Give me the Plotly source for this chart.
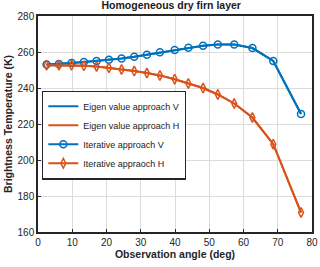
import plotly.graph_objects as go

angles = [2.5, 6.1, 9.8, 13.4, 17.1, 20.7, 24.4, 28.1, 31.8, 35.6, 39.9, 43.9, 48.2, 52.5, 57.3, 62.6, 68.7, 76.8]
tb_v = [253.1, 253.3, 253.9, 254.4, 255.0, 255.7, 256.4, 257.3, 258.5, 259.8, 261.1, 262.4, 263.5, 264.2, 264.2, 262.2, 255.0, 225.6]
tb_h = [252.7, 252.7, 252.6, 252.3, 252.0, 251.2, 250.3, 249.4, 248.3, 247.0, 244.9, 242.5, 240.0, 236.4, 231.4, 223.6, 208.8, 170.8]

names = ["Eigen value approach V", "Eigen value approach H", "Iterative approach V", "Iterative appraoch H"]
blue = "#0072BD"
orange = "#D95319"
FONT = "Liberation Sans, Arial"

fig = go.Figure()
fig.add_trace(go.Scatter(x=angles, y=tb_v, mode="lines", name=names[0], line=dict(color=blue, width=2)))
fig.add_trace(go.Scatter(x=angles, y=tb_h, mode="lines", name=names[1], line=dict(color=orange, width=2)))
fig.add_trace(go.Scatter(x=angles, y=tb_v, mode="lines+markers", name=names[2], line=dict(color=blue, width=2),
                         marker=dict(symbol="circle-open", size=7, color=blue, line=dict(width=1.5))))
fig.add_trace(go.Scatter(x=angles, y=tb_h, mode="lines+markers", name=names[3], line=dict(color=orange, width=2),
                         marker=dict(symbol="diamond-tall-open", size=7, color=orange, line=dict(width=1.5))))

axis_common = dict(showline=True, linecolor="#262626", linewidth=1.5, mirror=True,
                   ticks="inside", ticklen=3, tickcolor="#262626", automargin=False,
                   showgrid=True, gridcolor="#dcdcdc", gridwidth=1, zeroline=False,
                   tickfont=dict(family=FONT, size=10, color="#262626"))

fig.update_layout(
    width=320, height=267,
    margin=dict(l=38, r=8, t=16, b=35, autoexpand=False),
    paper_bgcolor="white", plot_bgcolor="white",
    title=dict(text="<b>Homogeneous dry firn layer</b>", x=0.535, xanchor="center",
               y=1, yref="container", yanchor="top", pad=dict(t=2),
               font=dict(family=FONT, size=10.5, color="#1a1a1a")),
    xaxis=dict(range=[0, 80], dtick=10, title=dict(text="<b>Observation angle (deg)</b>", standoff=3,
               font=dict(family=FONT, size=10.5, color="#262626")), **axis_common),
    yaxis=dict(range=[160, 280], dtick=20, title=dict(text="<b>Brightness Temperature (K)</b>", standoff=3,
               font=dict(family=FONT, size=10.5, color="#262626")), **axis_common),
    legend=dict(x=0.015, y=0.655, xanchor="left", yanchor="top", bgcolor="white",
                bordercolor="#262626", borderwidth=1.2, tracegroupgap=0, itemwidth=30,
                font=dict(family=FONT, size=9, color="#1a1a1a")),
    showlegend=True,
)

fig.write_html("out.html", config={"displayModeBar": False},
               post_script="document.body.style.margin='0';")
